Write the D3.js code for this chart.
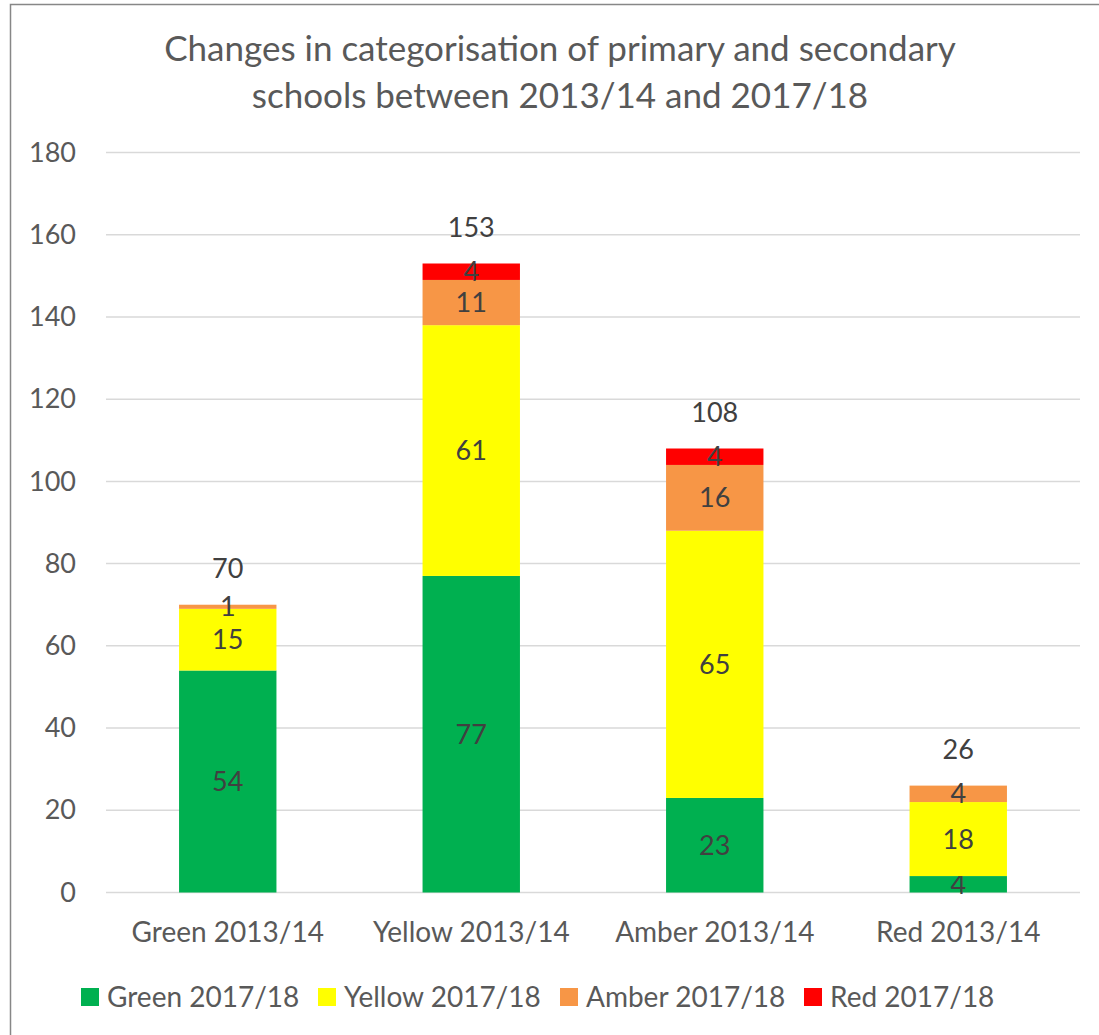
<!DOCTYPE html>
<html>
<head>
<meta charset="utf-8">
<script src="https://cdn.jsdelivr.net/npm/d3@7"></script>
<style>
  body { margin: 0; background: #fff; }
  svg text { font-family: Lato, "Open Sans", sans-serif; }
</style>
</head>
<body>
<div id="chart"></div>
<script>
// categories on the x axis (2013/14 status)
var categories = ["Green 2013/14", "Yellow 2013/14", "Amber 2013/14", "Red 2013/14"];
// series = 2017/18 status
var seriesNames = ["Green 2017/18", "Yellow 2017/18", "Amber 2017/18", "Red 2017/18"];
var seriesColors = ["#00b050", "#ffff00", "#f79646", "#ff0000"];
var greenVals = [54, 77, 23, 4];
var yellowVals = [15, 61, 65, 18];
var amberVals = [1, 11, 16, 4];
var redVals = [0, 4, 4, 0];
var totals = [70, 153, 108, 26];
var yTicks = [0, 20, 40, 60, 80, 100, 120, 140, 160, 180];

var W = 1099, H = 1035;
var margin = {top: 152.5, left: 106, right: 19, bottom: 142.5};
var width = W - margin.left - margin.right;
var height = H - margin.top - margin.bottom;

var svg = d3.select("#chart").append("svg")
  .attr("width", W)
  .attr("height", H);

// chart border
svg.append("rect")
  .attr("x", 10.5).attr("y", 4.5)
  .attr("width", W + 10).attr("height", H + 10)
  .attr("fill", "none")
  .attr("stroke", "#878787")
  .attr("stroke-width", 1.5);

// title
var title = svg.append("text")
  .attr("text-anchor", "middle")
  .attr("fill", "#595959")
  .style("font-size", "35px");
title.append("tspan").attr("x", 560).attr("y", 61).text("Changes in categorisation of primary and secondary");
title.append("tspan").attr("x", 560).attr("y", 108).text("schools between 2013/14 and 2017/18");

var g = svg.append("g")
  .attr("transform", "translate(" + margin.left + "," + margin.top + ")");

var x = d3.scaleBand()
  .domain(categories)
  .range([0, width])
  .paddingInner(0.6)
  .paddingOuter(0.3);

var y = d3.scaleLinear()
  .domain([0, 180])
  .range([height, 0]);

// gridlines
g.selectAll(".grid")
  .data(yTicks)
  .enter().append("line")
  .attr("class", "grid")
  .attr("x1", 0).attr("x2", width)
  .attr("y1", function(d) { return y(d); })
  .attr("y2", function(d) { return y(d); })
  .attr("stroke", "#d9d9d9")
  .attr("stroke-width", 1.5);

// y axis labels
var yAxis = d3.axisLeft(y).tickValues(yTicks).tickSize(0).tickPadding(30);
g.append("g").call(yAxis)
  .call(function(a) { a.select(".domain").remove(); })
  .selectAll("text")
  .attr("fill", "#595959")
  .style("font-size", "27px");

// stacked bars
var rows = categories.map(function(c, i) {
  return {cat: c, g: greenVals[i], y: yellowVals[i], a: amberVals[i], r: redVals[i]};
});
var stack = d3.stack().keys(["g", "y", "a", "r"]);
var layers = stack(rows);

var layer = g.selectAll(".layer")
  .data(layers)
  .enter().append("g")
  .attr("class", "layer")
  .attr("fill", function(d, i) { return seriesColors[i]; });

layer.selectAll("rect")
  .data(function(d) { return d; })
  .enter().append("rect")
  .attr("x", function(d) { return x(d.data.cat); })
  .attr("width", x.bandwidth())
  .attr("y", function(d) { return y(d[1]); })
  .attr("height", function(d) { return y(d[0]) - y(d[1]); });

// segment labels
layer.selectAll(".seg")
  .data(function(d) { return d.filter(function(e) { return e[1] - e[0] > 0; }); })
  .enter().append("text")
  .attr("class", "seg")
  .attr("x", function(d) { return x(d.data.cat) + x.bandwidth() / 2; })
  .attr("y", function(d) { return (y(d[0]) + y(d[1])) / 2; })
  .attr("dy", "0.35em")
  .attr("text-anchor", "middle")
  .attr("fill", "#404040")
  .style("font-size", "27px")
  .text(function(d) { return d[1] - d[0]; });

// totals
g.selectAll(".total")
  .data(totals)
  .enter().append("text")
  .attr("class", "total")
  .attr("x", function(d, i) { return x(categories[i]) + x.bandwidth() / 2; })
  .attr("y", function(d) { return y(d) - 36; })
  .attr("dy", "0.35em")
  .attr("text-anchor", "middle")
  .attr("fill", "#404040")
  .style("font-size", "27px")
  .text(function(d) { return d; });

// x axis labels
var xAxis = d3.axisBottom(x).tickSize(0).tickPadding(0);
g.append("g")
  .attr("transform", "translate(0," + height + ")")
  .call(xAxis)
  .call(function(a) { a.select(".domain").remove(); })
  .selectAll("text")
  .attr("y", 40)
  .attr("dy", "0.35em")
  .attr("fill", "#595959")
  .style("font-size", "28px");

// legend
var legendX = [81, 318, 560, 804];
var legend = svg.selectAll(".legend")
  .data(seriesNames)
  .enter().append("g")
  .attr("class", "legend")
  .attr("transform", function(d, i) { return "translate(" + legendX[i] + ",988)"; });

legend.append("rect")
  .attr("width", 18).attr("height", 18)
  .attr("fill", function(d, i) { return seriesColors[i]; });

legend.append("text")
  .attr("x", 26).attr("y", 9)
  .attr("dy", "0.35em")
  .attr("fill", "#595959")
  .style("font-size", "28px")
  .text(function(d) { return d; });
</script>
</body>
</html>
